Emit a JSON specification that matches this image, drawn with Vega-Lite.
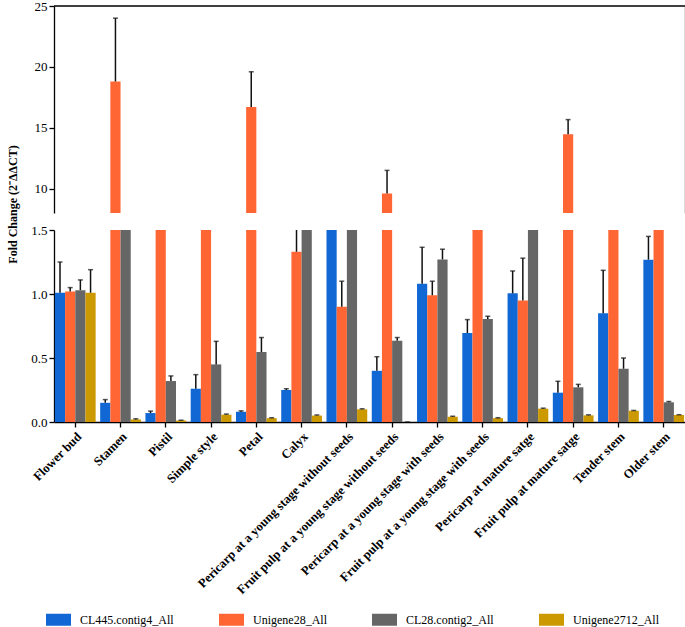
{
  "$schema": "https://vega.github.io/schema/vega-lite/v6.json",
  "padding": {"left": 5, "top": 0, "right": 2, "bottom": 2},
  "bounds": "flush",
  "spacing": 17,
  "config": {
    "font": "Liberation Serif",
    "view": {"stroke": null},
    "axis": {"domainColor": "#000", "tickColor": "#000", "labelColor": "#000", "labelFont": "Liberation Serif", "labelFontSize": 13, "grid": false, "tickSize": 5, "domainWidth": 1.3, "tickWidth": 1.3, "titleColor": "#000"}
  },
  "datasets": {"expr": [
    {"tissue": "Flower bud", "gene": "CL445.contig4_All", "mean": 1.01, "upper": 1.25},
    {"tissue": "Flower bud", "gene": "Unigene28_All", "mean": 1.02, "upper": 1.05},
    {"tissue": "Flower bud", "gene": "CL28.contig2_All", "mean": 1.03, "upper": 1.11},
    {"tissue": "Flower bud", "gene": "Unigene2712_All", "mean": 1.01, "upper": 1.19},
    {"tissue": "Stamen", "gene": "CL445.contig4_All", "mean": 0.15, "upper": 0.175},
    {"tissue": "Stamen", "gene": "Unigene28_All", "mean": 18.8, "upper": 24.0},
    {"tissue": "Stamen", "gene": "CL28.contig2_All", "mean": 4, "upper": 4},
    {"tissue": "Stamen", "gene": "Unigene2712_All", "mean": 0.02, "upper": 0.025},
    {"tissue": "Pistil", "gene": "CL445.contig4_All", "mean": 0.07, "upper": 0.085},
    {"tissue": "Pistil", "gene": "Unigene28_All", "mean": 4, "upper": 4},
    {"tissue": "Pistil", "gene": "CL28.contig2_All", "mean": 0.32, "upper": 0.36},
    {"tissue": "Pistil", "gene": "Unigene2712_All", "mean": 0.012, "upper": 0.014},
    {"tissue": "Simple style", "gene": "CL445.contig4_All", "mean": 0.26, "upper": 0.37},
    {"tissue": "Simple style", "gene": "Unigene28_All", "mean": 4, "upper": 4},
    {"tissue": "Simple style", "gene": "CL28.contig2_All", "mean": 0.45, "upper": 0.63},
    {"tissue": "Simple style", "gene": "Unigene2712_All", "mean": 0.057, "upper": 0.062},
    {"tissue": "Petal", "gene": "CL445.contig4_All", "mean": 0.08, "upper": 0.087},
    {"tissue": "Petal", "gene": "Unigene28_All", "mean": 16.7, "upper": 19.6},
    {"tissue": "Petal", "gene": "CL28.contig2_All", "mean": 0.547, "upper": 0.66},
    {"tissue": "Petal", "gene": "Unigene2712_All", "mean": 0.03, "upper": 0.033},
    {"tissue": "Calyx", "gene": "CL445.contig4_All", "mean": 0.25, "upper": 0.26},
    {"tissue": "Calyx", "gene": "Unigene28_All", "mean": 1.33, "upper": 1.6},
    {"tissue": "Calyx", "gene": "CL28.contig2_All", "mean": 4, "upper": 4},
    {"tissue": "Calyx", "gene": "Unigene2712_All", "mean": 0.05, "upper": 0.055},
    {"tissue": "Pericarp at a young stage without seeds", "gene": "CL445.contig4_All", "mean": 4, "upper": 4},
    {"tissue": "Pericarp at a young stage without seeds", "gene": "Unigene28_All", "mean": 0.9, "upper": 1.1},
    {"tissue": "Pericarp at a young stage without seeds", "gene": "CL28.contig2_All", "mean": 4, "upper": 4},
    {"tissue": "Pericarp at a young stage without seeds", "gene": "Unigene2712_All", "mean": 0.099, "upper": 0.103},
    {"tissue": "Fruit pulp at a young stage without seeds", "gene": "CL445.contig4_All", "mean": 0.4, "upper": 0.51},
    {"tissue": "Fruit pulp at a young stage without seeds", "gene": "Unigene28_All", "mean": 9.6, "upper": 11.5},
    {"tissue": "Fruit pulp at a young stage without seeds", "gene": "CL28.contig2_All", "mean": 0.635, "upper": 0.66},
    {"tissue": "Fruit pulp at a young stage without seeds", "gene": "Unigene2712_All", "mean": 0, "upper": 0},
    {"tissue": "Pericarp at a young stage with seeds", "gene": "CL445.contig4_All", "mean": 1.08, "upper": 1.365},
    {"tissue": "Pericarp at a young stage with seeds", "gene": "Unigene28_All", "mean": 0.99, "upper": 1.1},
    {"tissue": "Pericarp at a young stage with seeds", "gene": "CL28.contig2_All", "mean": 1.27, "upper": 1.35},
    {"tissue": "Pericarp at a young stage with seeds", "gene": "Unigene2712_All", "mean": 0.041, "upper": 0.045},
    {"tissue": "Fruit pulp at a young stage with seeds", "gene": "CL445.contig4_All", "mean": 0.695, "upper": 0.8},
    {"tissue": "Fruit pulp at a young stage with seeds", "gene": "Unigene28_All", "mean": 4, "upper": 4},
    {"tissue": "Fruit pulp at a young stage with seeds", "gene": "CL28.contig2_All", "mean": 0.805, "upper": 0.826},
    {"tissue": "Fruit pulp at a young stage with seeds", "gene": "Unigene2712_All", "mean": 0.03, "upper": 0.033},
    {"tissue": "Pericarp at mature satge", "gene": "CL445.contig4_All", "mean": 1.005, "upper": 1.18},
    {"tissue": "Pericarp at mature satge", "gene": "Unigene28_All", "mean": 0.95, "upper": 1.28},
    {"tissue": "Pericarp at mature satge", "gene": "CL28.contig2_All", "mean": 4, "upper": 4},
    {"tissue": "Pericarp at mature satge", "gene": "Unigene2712_All", "mean": 0.104, "upper": 0.108},
    {"tissue": "Fruit pulp at mature satge", "gene": "CL445.contig4_All", "mean": 0.229, "upper": 0.318},
    {"tissue": "Fruit pulp at mature satge", "gene": "Unigene28_All", "mean": 14.46, "upper": 15.67},
    {"tissue": "Fruit pulp at mature satge", "gene": "CL28.contig2_All", "mean": 0.271, "upper": 0.294},
    {"tissue": "Fruit pulp at mature satge", "gene": "Unigene2712_All", "mean": 0.052, "upper": 0.056},
    {"tissue": "Tender stem", "gene": "CL445.contig4_All", "mean": 0.85, "upper": 1.185},
    {"tissue": "Tender stem", "gene": "Unigene28_All", "mean": 4, "upper": 4},
    {"tissue": "Tender stem", "gene": "CL28.contig2_All", "mean": 0.416, "upper": 0.5},
    {"tissue": "Tender stem", "gene": "Unigene2712_All", "mean": 0.088, "upper": 0.09},
    {"tissue": "Older stem", "gene": "CL445.contig4_All", "mean": 1.268, "upper": 1.45},
    {"tissue": "Older stem", "gene": "Unigene28_All", "mean": 4, "upper": 4},
    {"tissue": "Older stem", "gene": "CL28.contig2_All", "mean": 0.154, "upper": 0.16},
    {"tissue": "Older stem", "gene": "Unigene2712_All", "mean": 0.055, "upper": 0.057}
  ],
  "frame": [{"top": 25}]},
  "vconcat": [
    {
      "width": 631,
      "height": 207,
      "layer": [
        {
          "data": {"name": "expr"},
          "mark": {"type": "bar", "clip": true},
          "encoding": {
            "x": {"field": "tissue", "type": "nominal", "sort": null, "scale": {"paddingInner": 0.1, "paddingOuter": 0.02}, "axis": null},
            "xOffset": {"field": "gene", "type": "nominal", "sort": ["CL445.contig4_All", "Unigene28_All", "CL28.contig2_All", "Unigene2712_All"], "scale": {"paddingInner": 0, "paddingOuter": 0}},
            "y": {"field": "mean", "type": "quantitative", "scale": {"domain": [8, 25], "nice": false, "zero": false}, "axis": {"values": [10, 15, 20, 25], "title": null}},
            "color": {"field": "gene", "type": "nominal", "sort": ["CL445.contig4_All", "Unigene28_All", "CL28.contig2_All", "Unigene2712_All"], "scale": {"domain": ["CL445.contig4_All", "Unigene28_All", "CL28.contig2_All", "Unigene2712_All"], "range": ["#1167D3", "#FF6633", "#666666", "#CC9900"]}, "legend": {"orient": "none", "legendX": -8, "legendY": 601, "direction": "horizontal", "title": null, "symbolType": "M-1,-0.48H1V0.48H-1Z", "symbolSize": 625, "symbolStrokeWidth": 0, "labelFont": "Liberation Serif", "labelFontSize": 12, "labelColor": "#000", "labelOffset": 9, "columnPadding": 45, "labelLimit": 0}}
          }
        },
        {
          "data": {"name": "expr"},
          "mark": {"type": "rule", "clip": true, "color": "#111", "strokeWidth": 1.5},
          "encoding": {
            "x": {"field": "tissue", "type": "nominal", "sort": null},
            "xOffset": {"field": "gene", "type": "nominal", "sort": ["CL445.contig4_All", "Unigene28_All", "CL28.contig2_All", "Unigene2712_All"]},
            "y": {"field": "mean", "type": "quantitative", "axis": null},
            "y2": {"field": "upper"}
          }
        },
        {
          "data": {"name": "expr"},
          "mark": {"type": "tick", "clip": true, "color": "#111", "thickness": 1.5, "size": 5, "orient": "horizontal"},
          "encoding": {
            "x": {"field": "tissue", "type": "nominal", "sort": null},
            "xOffset": {"field": "gene", "type": "nominal", "sort": ["CL445.contig4_All", "Unigene28_All", "CL28.contig2_All", "Unigene2712_All"]},
            "y": {"field": "upper", "type": "quantitative", "axis": {"orient": "right", "labels": false, "ticks": false, "title": null}}
          }
        },
        {
          "data": {"name": "frame"},
          "mark": {"type": "rule", "color": "#000", "strokeWidth": 1.3},
          "encoding": {
            "y": {"field": "top", "type": "quantitative", "axis": null}
          }
        }
      ],
      "resolve": {"axis": {"y": "independent"}}
    },
    {
      "width": 631,
      "height": 192,
      "data": {"name": "expr"},
      "encoding": {
        "x": {"field": "tissue", "type": "nominal", "sort": null, "scale": {"paddingInner": 0.1, "paddingOuter": 0.02}, "axis": {"title": null, "labelAngle": -45, "labelFontWeight": "bold", "labelFontSize": 12.7, "labelPadding": 3, "labelLimit": 0}},
        "xOffset": {"field": "gene", "type": "nominal", "sort": ["CL445.contig4_All", "Unigene28_All", "CL28.contig2_All", "Unigene2712_All"], "scale": {"paddingInner": 0, "paddingOuter": 0}}
      },
      "layer": [
        {
          "mark": {"type": "bar", "clip": true},
          "encoding": {
            "y": {"field": "mean", "type": "quantitative", "scale": {"domain": [0, 1.5], "nice": false}, "axis": {"values": [0, 0.5, 1, 1.5], "format": ".1f", "title": "Fold Change (2⁻ΔΔCT)", "titleFont": "Liberation Serif", "titleFontWeight": "bold", "titleFontSize": 12, "titleX": -47, "titleY": -26, "titleAlign": "center", "titleBaseline": "top", "titleAngle": -90}},
            "color": {"field": "gene", "type": "nominal", "sort": ["CL445.contig4_All", "Unigene28_All", "CL28.contig2_All", "Unigene2712_All"], "scale": {"domain": ["CL445.contig4_All", "Unigene28_All", "CL28.contig2_All", "Unigene2712_All"], "range": ["#1167D3", "#FF6633", "#666666", "#CC9900"]}, "legend": {"orient": "none", "legendX": -8, "legendY": 601, "direction": "horizontal", "title": null, "symbolType": "M-1,-0.48H1V0.48H-1Z", "symbolSize": 625, "symbolStrokeWidth": 0, "labelFont": "Liberation Serif", "labelFontSize": 12, "labelColor": "#000", "labelOffset": 9, "columnPadding": 45, "labelLimit": 0}}
          }
        },
        {
          "mark": {"type": "rule", "clip": true, "color": "#111", "strokeWidth": 1.5},
          "encoding": {
            "y": {"field": "mean", "type": "quantitative"},
            "y2": {"field": "upper"}
          }
        },
        {
          "mark": {"type": "tick", "clip": true, "color": "#111", "thickness": 1.5, "size": 5, "orient": "horizontal"},
          "encoding": {
            "y": {"field": "upper", "type": "quantitative"}
          }
        }
      ]
    }
  ]
}
